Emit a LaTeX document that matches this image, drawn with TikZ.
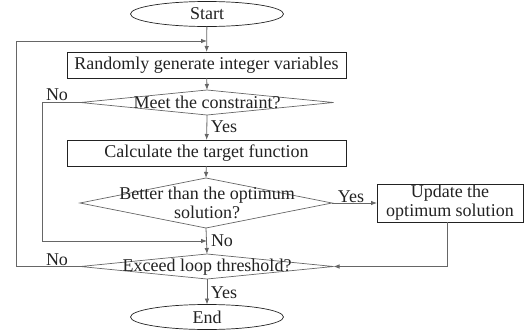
\documentclass[tikz,border=0pt]{standalone}
\usepackage{fontspec}
\setmainfont{Liberation Serif}
\usetikzlibrary{shapes.geometric,arrows.meta}
\definecolor{ln}{HTML}{666666}
\definecolor{tx}{HTML}{222222}
\begin{document}
\begin{tikzpicture}[x=1pt,y=-1pt,
  font=\fontsize{18}{19}\selectfont, text=tx,
  every node/.style={inner sep=0pt, outer sep=0pt},
  term/.style={ellipse, draw=tx, line width=0.7pt, minimum width=153pt, minimum height=25pt},
  proc/.style={rectangle, draw=tx, line width=0.7pt, minimum width=279pt, minimum height=26pt},
  dec/.style={diamond, draw=ln, line width=0.7pt},
  lbl/.style={align=center},
  conn/.style={draw=ln, line width=0.8pt},
  arr/.style={conn, -{Latex[length=6pt,width=4.5pt]}}]
\useasboundingbox (0,0) rectangle (531,335);
% shapes
\node[term] (start) at (207,14) {Start};
\node[proc] (b1) at (206.5,65) {Randomly generate integer variables};
\node[dec, minimum width=253pt, minimum height=25pt] (d1) at (207,102.5) {};
\node[proc] (b2) at (206.5,153) {Calculate the target function};
\node[dec, minimum width=252pt, minimum height=50pt] (d2) at (206,203) {};
\node[rectangle, draw=tx, line width=0.7pt, minimum width=146pt, minimum height=38pt, align=center] (b3) at (450,203) {Update the\\optimum solution};
\node[dec, minimum width=253pt, minimum height=25pt] (d3) at (207,266.5) {};
\node[term] (end) at (207,317) {End};
% decision texts
\node[lbl] (t1) at (207,102) {Meet the constraint?};
\node[lbl] (t2) at (207,203) {Better than the optimum\\solution?};
\node[lbl] (t3) at (207,267) {Exceed loop threshold?};
% coordinates
\coordinate (top) at (207,41);
\coordinate (mid) at (207,241);
\coordinate (l1a) at (42,102.5);
\coordinate (l1b) at (42,241);
\coordinate (l3a) at (16,266.5);
\coordinate (l3b) at (16,41);
\coordinate (r3) at (447,266.5);
% connectors
\draw[arr] (start) -- (b1);
\draw[arr] (b1) -- (d1.north);
\draw[arr] (d1.south) -- (b2);
\draw[arr] (b2) -- (d2.north);
\draw[arr] (d2.east) -- (b3.west);
\draw[arr] (d2.south) -- (d3.north);
\draw[arr] (d3.south) -- (end);
\draw[arr] (d1.west) -- (l1a) -- (l1b) -- (mid);
\draw[arr] (d3.west) -- (l3a) -- (l3b) -- (top);
\draw[arr] (b3.south -| r3) -- (r3) -- (d3.east);
% labels
\node (n1) at (57,95) {No};
\node (y1) at (224,127) {Yes};
\node (y2) at (351,197) {Yes};
\node (n2) at (222,241) {No};
\node (n3) at (57,260) {No};
\node (y3) at (224,293) {Yes};
\end{tikzpicture}
\end{document}
